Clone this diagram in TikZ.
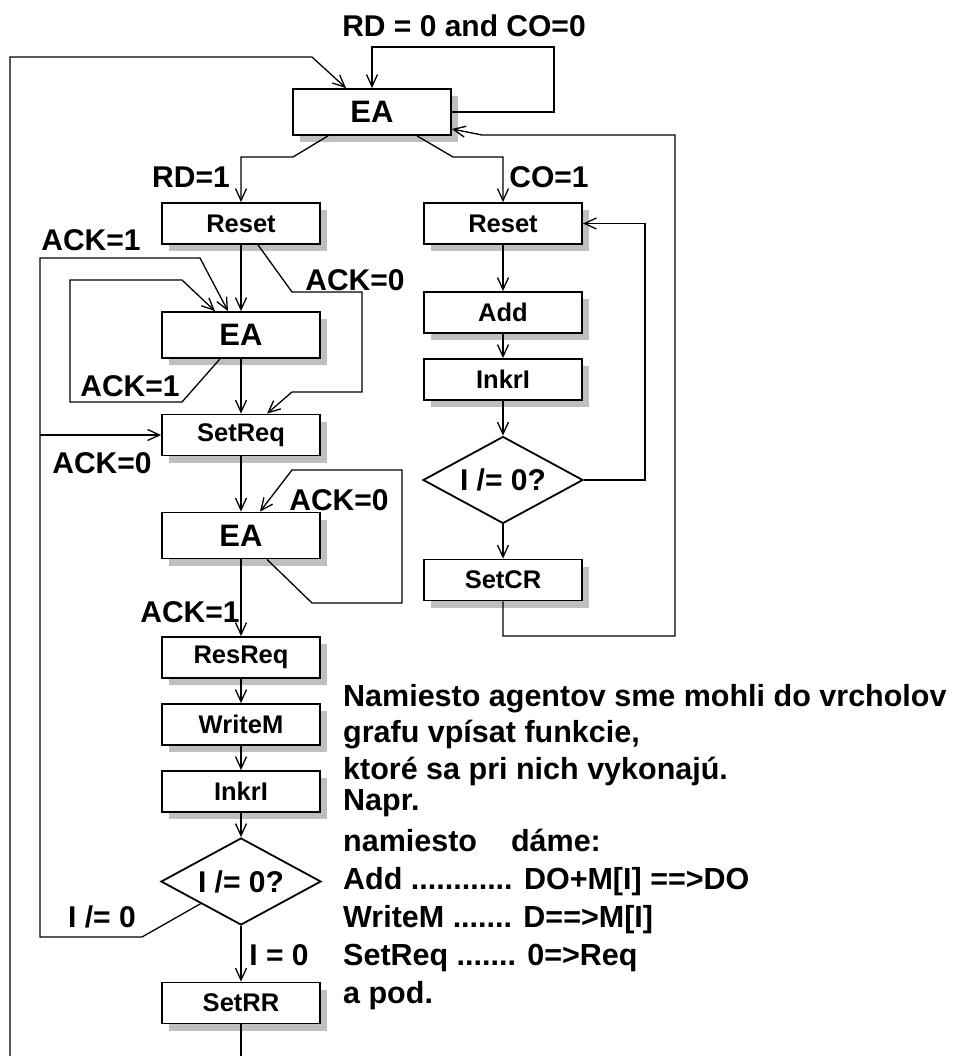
\documentclass[tikz,border=0pt]{standalone}
\usepackage{fontspec}
\setmainfont{Liberation Sans}
\usetikzlibrary{arrows.meta,positioning,shapes.geometric,shadows}

\begin{document}
\begin{tikzpicture}[x=1pt, y=-1pt,
  box/.style={draw, line width=1.8pt, fill=white, minimum width=158pt, minimum height=41pt, inner sep=0pt, font=\fontsize{25.5}{28}\selectfont\bfseries, drop shadow={shadow xshift=7pt, shadow yshift=-7pt, fill=black!25, opacity=1}},
  eabox/.style={box, minimum height=46pt, font=\fontsize{31}{34}\selectfont\bfseries},
  cond/.style={draw, diamond, aspect=1.84, line width=1.8pt, fill=white, minimum width=160pt, minimum height=87pt, inner sep=0pt, font=\fontsize{30}{33}\selectfont\bfseries},
  lbl/.style={inner sep=0pt, font=\fontsize{30}{33}\selectfont\bfseries},
  txt/.style={anchor=base west, inner sep=0pt, font=\fontsize{30.5}{34}\selectfont\bfseries},
  conn/.style={line width=1.3pt},
  arr/.style={conn, -{Straight Barb[length=12pt,width=11pt]}}]
  \useasboundingbox (0,0) rectangle (955,1056);
  % Top state
  \node[eabox] (tEA) at (372,112) {EA};
  \node[lbl] (lrdco) at (464,26) {RD = 0 and CO=0};
  % Read branch
  \node[box] (resetL) at (241,223.5) {Reset};
  \node[eabox] (eaL1) at (241,335) {EA};
  \node[box] (setreq) at (241,435) {SetReq};
  \node[eabox] (eaL2) at (241,535.5) {EA};
  \node[box] (resreq) at (241,657.5) {ResReq};
  \node[box] (writem) at (241,724.5) {WriteM};
  \node[box] (inkrlL) at (241,791.5) {InkrI};
  \node[cond] (diaL) at (241,881.5) {I /= 0?};
  \node[box] (setrr) at (241,1003) {SetRR};
  % Count branch
  \node[box] (resetR) at (503,223.5) {Reset};
  \node[box] (add) at (503,312.5) {Add};
  \node[box] (inkrlR) at (503,379.5) {InkrI};
  \node[cond] (diaR) at (503,480) {I /= 0?};
  \node[box] (setcr) at (503,580) {SetCR};
  % Labels
  \node[lbl] (lrd) at (191,177) {RD=1};
  \node[lbl] (lco) at (549,177) {CO=1};
  \node[lbl] (lack1) at (91,240) {ACK=1};
  \node[lbl] (lack2) at (355,280) {ACK=0};
  \node[lbl] (lack3) at (130,386) {ACK=1};
  \node[lbl] (lack4) at (102,463) {ACK=0};
  \node[lbl] (lack5) at (339,500) {ACK=0};
  \node[lbl] (lack6) at (190,612) {ACK=1};
  \node[lbl] (lne) at (102,917) {I /= 0};
  \node[lbl] (leq) at (279,955) {I = 0};
  % Note
  \node[txt] (t1) at (343,706) {Namiesto agentov sme mohli do vrcholov};
  \node[txt] (t2) at (343,742) {grafu vpísat funkcie,};
  \node[txt] (t3) at (343,779) {ktoré sa pri nich vykonajú.};
  \node[txt] (t4) at (343,810) {Napr.};
  \node[txt] (t5) at (343,851) {namiesto\hspace{34pt}dáme:};
  \node[txt] (t6) at (343,889) {Add ............ DO+M[I] ==>DO};
  \node[txt] (t7) at (343,927) {WriteM ....... D==>M[I]};
  \node[txt] (t8) at (343,965) {SetReq ....... 0=>Req};
  \node[txt] (t9) at (343,1003) {a pod.};
  \coordinate (lbot) at (10,1056);
  \coordinate (cbot) at (241,1056);
  \coordinate (jL) at (40,435);
  % Top arrows
  \draw[arr] (tEA.east) -| (554,47) -| (tEA.north);
  \draw[arr] (lbot) |- (312,57) -- ([xshift=-26pt]tEA.north);
  \draw[arr] (setcr.south) |- (675,636) |- (482,135) -- ([yshift=-17pt]tEA.east);
  \draw[arr] ([xshift=-44pt]tEA.south) -- (293,157) -| (resetL.north);
  \draw[arr] ([xshift=45pt]tEA.south) -- (453,157) -| (resetR.north);
  % Read branch arrows
  \draw[arr] (resetL) -- (eaL1);
  \draw[arr] ([xshift=17pt]resetL.south) -- (292,292) -- (362,292) |- (292,392) -- ([xshift=26pt]setreq.north);
  \draw[arr] ([xshift=-21pt]eaL1.south) -- (182,402) -| (70,280) -- (182,280) -- ([xshift=-26pt]eaL1.north);
  \draw[arr] (eaL1) -- (setreq);
  \draw[arr] (diaL.south west) -- (142,937) -| (40,258) -- (200,258) -- ([xshift=-13pt]eaL1.north);
  \draw[arr] (jL) -- (setreq.west);
  \draw[arr] (setreq) -- (eaL2);
  \draw[arr] ([xshift=26pt]eaL2.south) -- (312,603) -- (402,603) |- (292,470) -- ([xshift=19pt]eaL2.north);
  \draw[arr] (eaL2) -- (resreq);
  \draw[arr] (resreq) -- (writem);
  \draw[arr] (writem) -- (inkrlL);
  \draw[arr] (inkrlL) -- (diaL);
  \draw[arr] (diaL) -- (setrr);
  \draw[conn] (setrr) -- (cbot);
  % Count branch arrows
  \draw[arr] (resetR) -- (add);
  \draw[arr] (add) -- (inkrlR);
  \draw[arr] (inkrlR) -- (diaR);
  \draw[arr] (diaR) -- (setcr);
  \draw[arr] (diaR.east) -- (645,480) |- (resetR.east);
\end{tikzpicture}
\end{document}
